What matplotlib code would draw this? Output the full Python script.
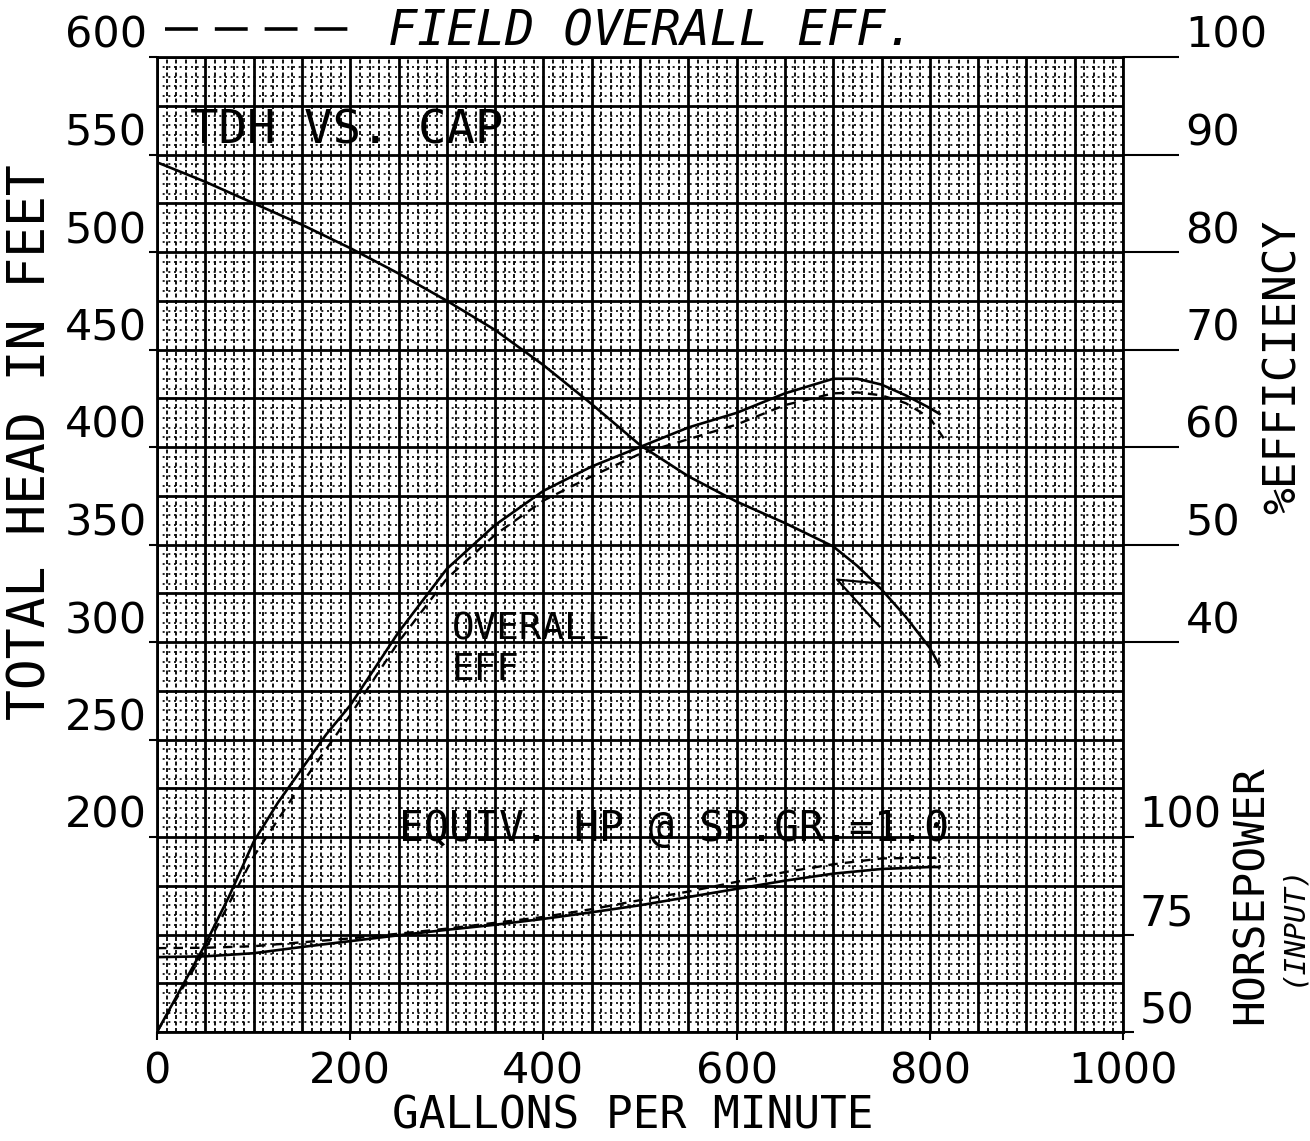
import matplotlib
matplotlib.use('Agg')
import matplotlib.pyplot as plt
from matplotlib.lines import Line2D

# --- values ---
tdh_gpm = [0, 50, 100, 150, 200, 250, 300, 350, 400, 450, 500, 550, 600, 650, 700, 725, 750, 775, 800, 810]
tdh_ft = [546, 536, 525, 514, 502, 489, 475, 460, 442, 422, 401, 385, 372, 361, 349, 339, 327, 313, 297, 288]

eff_gpm = [0, 25, 50, 75, 100, 125, 150, 175, 200, 250, 300, 350, 400, 450, 500, 550, 600, 650, 700, 725, 750, 775, 800, 810]
eff_pct = [0, 4.5, 9, 14, 19.5, 23.5, 27, 30.5, 33.5, 41, 47.5, 52, 55.5, 58, 60, 62, 63.5, 65.5, 67, 67, 66.4, 65.3, 64, 63.4]

field_eff_gpm = [0, 50, 100, 150, 200, 250, 300, 350, 400, 450, 500, 550, 600, 650, 700, 725, 750, 775, 800, 815]
field_eff_pct = [0, 8.5, 18, 25.5, 32.5, 40, 46.5, 51, 54.5, 57, 59.3, 60.8, 62.3, 64.3, 65.5, 65.6, 65.3, 64.5, 63, 60.8]

hp_gpm = [0, 50, 100, 150, 200, 250, 300, 350, 400, 450, 500, 550, 600, 650, 700, 750, 800, 810]
hp_input = [69.2, 69.4, 70.2, 71.8, 73.3, 74.8, 76.2, 77.5, 79, 80.7, 82.5, 84.6, 86.7, 88.8, 90.6, 91.8, 92.3, 92.3]

field_hp_gpm = [0, 50, 100, 150, 200, 250, 300, 350, 400, 450, 500, 550, 600, 650, 700, 750, 800, 815]
field_hp = [71.5, 71.6, 72, 73, 74, 75.2, 76.5, 78, 79.5, 81.5, 83.8, 86, 88.5, 91, 93, 94.5, 94.7, 94.5]

# small pen stroke near the TDH curve
mark_gpm = [748, 704, 748]
mark_ft = [330, 332, 308]

x_ticks = [0, 200, 400, 600, 800, 1000]
head_ticks = [200, 250, 300, 350, 400, 450, 500, 550, 600]
eff_ticks = [40, 50, 60, 70, 80, 90, 100]
hp_ticks = [50, 75, 100]

W, H = 1310, 1141
fig = plt.figure(figsize=(W / 100, H / 100), dpi=100)
ax = fig.add_axes([157 / W, 1 - 1032 / H, 966 / W, 975 / H])
ax.set_xlim(0, 1000)
ax.set_ylim(100, 600)

# graph paper grid
for q in range(0, 1001, 10):
    if q % 50 == 0:
        ax.axvline(q, color='black', lw=2.0, zorder=1)
    else:
        ax.axvline(q, color='black', lw=1.3, ls=(0, (2.2, 1.4)), zorder=1)
for h in range(100, 601, 5):
    if h % 25 == 0:
        ax.axhline(h, color='black', lw=2.0, zorder=1)
    else:
        ax.axhline(h, color='black', lw=1.2, ls=(0, (1.2, 2.2)), zorder=1)

for s in ax.spines.values():
    s.set_linewidth(2)

tick_font = dict(family='DejaVu Sans', size=31)
mono = 'DejaVu Sans Mono'

ax.set_xticks(x_ticks, [str(v) for v in x_ticks], **tick_font)
ax.tick_params(axis='x', length=6, width=1.5, pad=7, direction='out')
ax.set_yticks(head_ticks, [str(v) for v in head_ticks], va='bottom', **tick_font)
ax.tick_params(axis='y', length=6, width=1.5, pad=1, direction='out')

ax.plot(tdh_gpm, tdh_ft, color='black', lw=1.9, zorder=3)
ax.plot(mark_gpm, mark_ft, color='black', lw=1.6, zorder=3)

ax_eff = ax.twinx()
ax_eff.set_ylim(0, 100)
ax_eff.set_yticks(eff_ticks, [str(v) for v in eff_ticks], va='bottom', **tick_font)
ax_eff.tick_params(axis='y', length=40, width=1.5, pad=5)
ax_eff.plot(eff_gpm, eff_pct, color='black', lw=1.9, zorder=3)
ax_eff.plot(field_eff_gpm, field_eff_pct, color='black', lw=1.7, ls=(0, (4, 3)), zorder=3)

ax_hp = ax.twinx()
ax_hp.set_ylim(50, 300)
ax_hp.set_yticks(hp_ticks, [str(v) for v in hp_ticks], va='bottom', **tick_font)
ax_hp.tick_params(axis='y', length=8, width=1.5, pad=4)
ax_hp.plot(hp_gpm, hp_input, color='black', lw=1.9, zorder=3)
ax_hp.plot(field_hp_gpm, field_hp, color='black', lw=1.7, ls=(0, (4, 3)), zorder=3)
for a in (ax_eff, ax_hp):
    for s in a.spines.values():
        s.set_visible(False)

# labels inside the grid
ax.text(34, 562, 'TDH VS. CAP', family=mono, fontsize=34, ha='left', va='center', zorder=4)
ax.text(305, 296, 'OVERALL\nEFF', family=mono, fontsize=27, ha='left', va='center',
        multialignment='left', linespacing=1.15, zorder=4)
ax.text(251, 204, 'EQUIV. HP @ SP.GR.=1.0', family=mono, fontsize=30, ha='left',
        va='center', zorder=4)

# axis titles
ax.set_xlabel('GALLONS PER MINUTE', family=mono, fontsize=32)
ax.xaxis.set_label_coords(0.492, -0.086)
ax.xaxis.label.set_va('center')
ax.set_ylabel('TOTAL HEAD IN FEET', family=mono, fontsize=37)
ax.yaxis.set_label_coords(-0.13, 0.605)
ax.yaxis.label.set_va('center')

fig.text(1283 / W, 1 - 367 / H, '%EFFICIENCY', family=mono, fontsize=32,
         rotation=90, ha='center', va='center')
fig.text(1251 / W, 1 - 895 / H, 'HORSEPOWER', family=mono, fontsize=31,
         rotation=90, ha='center', va='center')
fig.text(1292 / W, 1 - 925 / H, '(INPUT)', family=mono, fontsize=21, style='italic',
         rotation=90, ha='center', va='center')

# key for the field curve, above the grid
key = Line2D([], [], color='black', lw=2.6, ls=(0, (9.1, 4.7)))
ax_hp.legend([key], ['FIELD OVERALL EFF.'], loc='center left', bbox_to_anchor=(0.008, 1.026),
             frameon=False, borderpad=0, borderaxespad=0, handlelength=4.0,
             handletextpad=0.6, prop=dict(family=mono, style='italic', size=35))

fig.savefig('out.png', dpi=100)
